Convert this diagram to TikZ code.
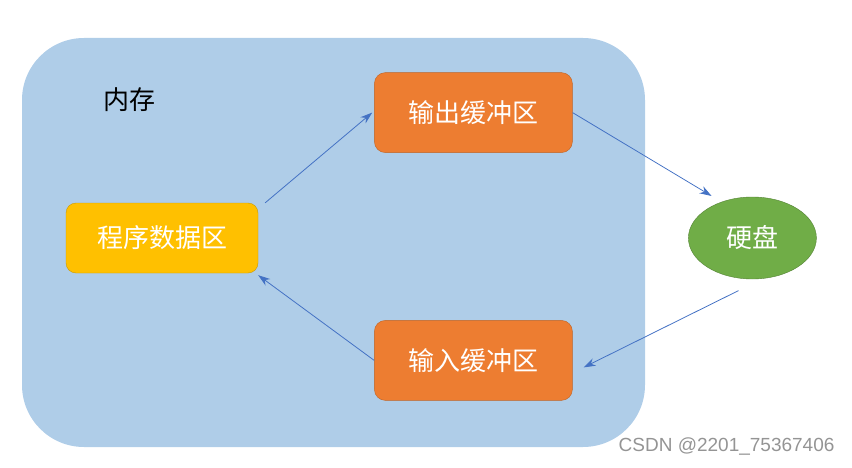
\documentclass[tikz,border=0pt]{standalone}
\usepackage{fontspec}
\newfontfamily\cjk{Noto Sans CJK SC}
\newfontfamily\wmfont{Liberation Sans}
\usepackage{xcolor}
\usepackage{tikz}
\usetikzlibrary{shapes,arrows,arrows.meta,positioning,calc}

\definecolor{ramblue}{HTML}{AFCDE8}
\definecolor{bufferorange}{HTML}{ED7D31}
\definecolor{dataYellow}{HTML}{FFC000}
\definecolor{diskgreen}{HTML}{70AD47}
\definecolor{arrowblue}{HTML}{4472C4}

\begin{document}
\begin{tikzpicture}[
    x=1pt, y=1pt,
    node distance=50pt and 116pt,
    memory/.style={rectangle, fill=ramblue, minimum width=623pt, minimum height=409pt,
                   rounded corners=62pt, inner sep=0pt},
    membox/.style={font=\cjk\fontsize{26}{30}\selectfont, text=black},
    databox/.style={rectangle, draw=dataYellow!80!black, fill=dataYellow, minimum width=192pt,
                    minimum height=70pt, rounded corners=10pt, font=\cjk\fontsize{26}{30}\selectfont, text=white},
    buffer/.style={rectangle, draw=bufferorange!80!black, fill=bufferorange, minimum width=198pt,
                   minimum height=80pt, rounded corners=11pt, font=\cjk\fontsize{26}{30}\selectfont, text=white},
    disk/.style={ellipse, draw=diskgreen!75!black, fill=diskgreen, minimum width=128pt,
                 minimum height=82pt, inner sep=0pt, font=\cjk\fontsize{26}{30}\selectfont, text=white},
    arrow/.style={->, >={Stealth[length=12pt,width=8pt]}, draw=arrowblue, line width=0.8pt}
]
\useasboundingbox (0,0) rectangle (852,467);

\node[memory] (ram) at (333.5,224.5) {};
\node[membox] (mem) at ([xshift=108pt,yshift=-62pt]ram.north west) {内存};

\node[databox] (data) at (162,229) {程序数据区};
\node[buffer, above right=50pt and 116pt of data] (out) {输出缓冲区};
\node[buffer, below right=47pt and 116pt of data] (in) {输入缓冲区};
\node[disk, right=430pt of data] (hdd) {硬盘};

% watermark
\node[font=\wmfont\fontsize{19}{22}\selectfont, text=black!42, anchor=east] (mark) at (838,20) {CSDN @2201\_75367406};

\draw[arrow] ([xshift=7pt]data.north east) -- ([xshift=-2pt]out.west);
\draw[arrow] (out.east) -- ([xshift=-7pt,yshift=7pt]hdd.134);
\draw[arrow] ([xshift=-3pt,yshift=-12pt]hdd.255) -- ([xshift=11pt,yshift=-7pt]in.east);
\draw[arrow] (in.west) -- ([yshift=-2pt]data.south east);
\end{tikzpicture}
\end{document}
